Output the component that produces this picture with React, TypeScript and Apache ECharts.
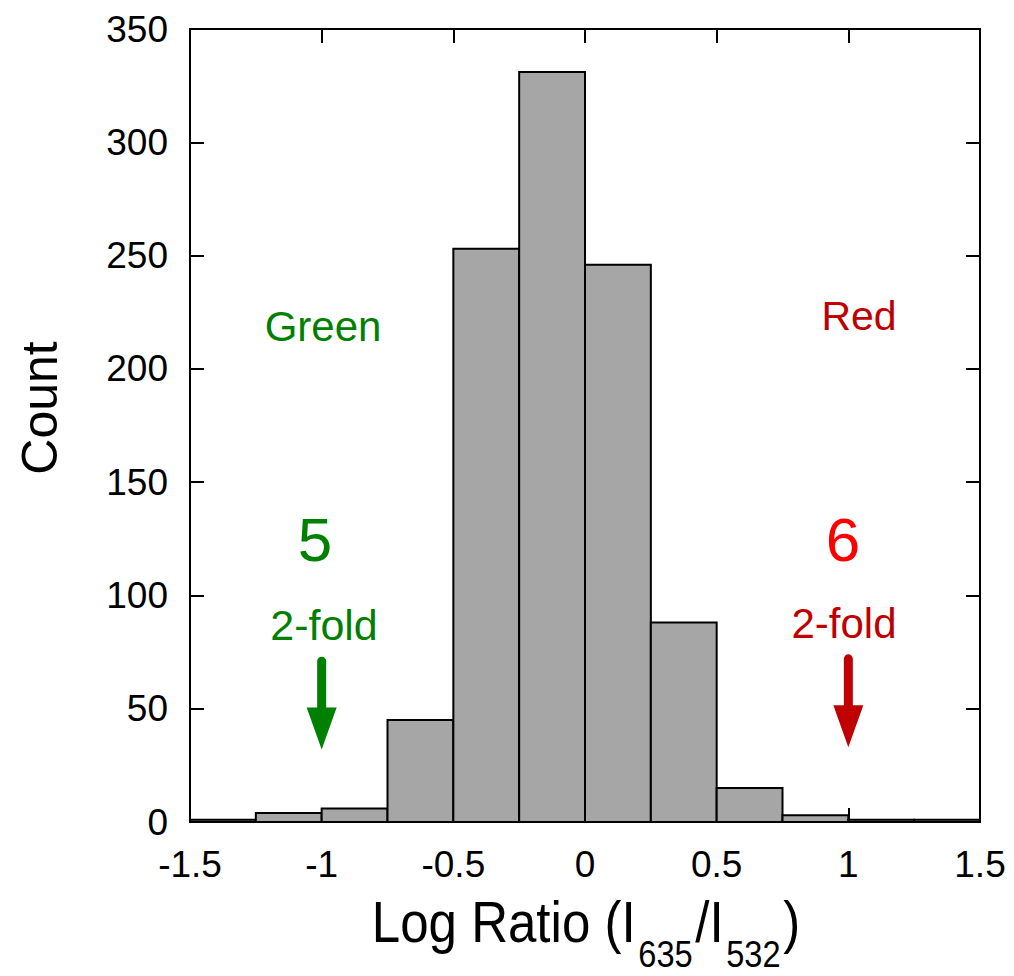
import React, { useEffect, useRef } from "react";
import * as echarts from "echarts";

const binStarts = [-1.5, -1.25, -1.0, -0.75, -0.5, -0.25, 0.0, 0.25, 0.5, 0.75, 1.0, 1.25];
const binWidth = 0.25;
const counts = [1, 4, 6, 45, 253, 331, 246, 88, 15, 3, 1, 1];
const xTicks = [-1.5, -1, -0.5, 0, 0.5, 1, 1.5];
const yTicks = [0, 50, 100, 150, 200, 250, 300, 350];

const FONT = "Liberation Sans, Arial, sans-serif";

export default function App() {
  const ref = useRef<HTMLDivElement>(null);
  useEffect(() => {
    if (!ref.current) return;
    const chart = echarts.init(ref.current, undefined, { renderer: "svg" });
    const data = binStarts.map((s, i) => [s, s + binWidth, counts[i]]);
    const tick = { show: true, inside: true, length: 14, lineStyle: { color: "#000", width: 2 } };
    const line = { show: true, onZero: false, lineStyle: { color: "#000", width: 2 } };
    const yCommon = {
      type: "value" as const,
      min: 0,
      max: 350,
      interval: 50,
      axisLine: line,
      axisTick: tick,
      splitLine: { show: false },
    };
    const xCommon = {
      type: "value" as const,
      min: -1.5,
      max: 1.5,
      interval: 0.5,
      axisLine: line,
      axisTick: tick,
      splitLine: { show: false },
    };
    chart.setOption({
      animation: false,
      backgroundColor: "#fff",
      grid: { left: 190, right: 34, top: 29, bottom: 154 },
      xAxis: [
        {
          ...xCommon,
          position: "bottom",
          axisLabel: {
            color: "#000",
            fontSize: 37,
            fontFamily: FONT,
            margin: 24,
            formatter: (v: number) => (xTicks.includes(v) ? String(v) : ""),
          },
        },
        { ...xCommon, position: "top", axisLabel: { show: false } },
      ],
      yAxis: [
        {
          ...yCommon,
          position: "left",
          axisLabel: {
            color: "#000",
            fontSize: 37,
            fontFamily: FONT,
            margin: 22,
            formatter: (v: number) => (yTicks.includes(v) ? String(v) : ""),
          },
        },
        { ...yCommon, position: "right", axisLabel: { show: false } },
      ],
      series: [
        {
          type: "custom",
          renderItem: (params: any, api: any) => {
            const p0 = api.coord([api.value(0), api.value(2)]);
            const p1 = api.coord([api.value(1), 0]);
            return {
              type: "rect",
              shape: { x: p0[0], y: p0[1], width: p1[0] - p0[0], height: p1[1] - p0[1] },
              style: { fill: "#a6a6a6", stroke: "#000", lineWidth: 2 },
            };
          },
          encode: { x: [0, 1], y: 2 },
          data,
          z: 1,
        },
      ],
    });

    const px = (x: number, y: number) => chart.convertToPixel({ gridIndex: 0 }, [x, y]) as number[];
    const green = "#008000";
    const darkRed = "#c00000";
    const red = "#ff0000";
    const txt = (x: number, bottom: number, text: string, color: string, size: number) => ({
      type: "text",
      x,
      y: bottom,
      style: { text, fill: color, font: `${size}px ${FONT}`, align: "center", verticalAlign: "bottom" },
      z: 10,
    });
    const arrow = (x: number, yTop: number, yBot: number, color: string) => {
      const a = px(x, yTop);
      const b = px(x, yBot);
      const headH = 42;
      return [
        {
          type: "line",
          shape: { x1: a[0], y1: a[1], x2: b[0], y2: b[1] - headH + 2 },
          style: { stroke: color, lineWidth: 9, lineCap: "round" },
          z: 10,
        },
        {
          type: "polygon",
          shape: { points: [[b[0] - 15, b[1] - headH], [b[0] + 15, b[1] - headH], [b[0], b[1]]] },
          style: { fill: color },
          z: 10,
        },
      ];
    };
    chart.setOption({
      graphic: [
        txt(323, 347, "Green", green, 42),
        txt(859, 336, "Red", darkRed, 41),
        txt(315, 570, "5", green, 62),
        txt(843, 570, "6", red, 62),
        txt(324, 646, "2-fold", green, 43),
        txt(844, 644, "2-fold", darkRed, 42),
        ...arrow(-1.0, 71, 32, green),
        ...arrow(1.0, 72, 33, darkRed),
        {
          type: "text",
          x: 40,
          y: 408,
          rotation: Math.PI / 2,
          style: { text: "Count", fill: "#000", font: `50px ${FONT}`, align: "center", verticalAlign: "middle" },
          z: 10,
        },
        {
          type: "text",
          x: 586,
          y: 972,
          scaleX: 0.88,
          style: {
            text: "{m|Log Ratio (I}{s|635}{m|/I}{s|532}{m|)}",
            fill: "#000",
            align: "center",
            verticalAlign: "bottom",
            rich: {
              m: { fontSize: 58, fontFamily: FONT, fill: "#000", verticalAlign: "bottom", padding: [0, 0, 21, 0] },
              s: { fontSize: 37, fontFamily: FONT, fill: "#000", verticalAlign: "bottom", padding: [0, 3, 0, 3] },
            },
          },
          z: 10,
        },
      ],
    });
    return () => chart.dispose();
  }, []);
  return <div ref={ref} style={{ position: "fixed", left: 0, top: 0, width: 1014, height: 976 }} />;
}
